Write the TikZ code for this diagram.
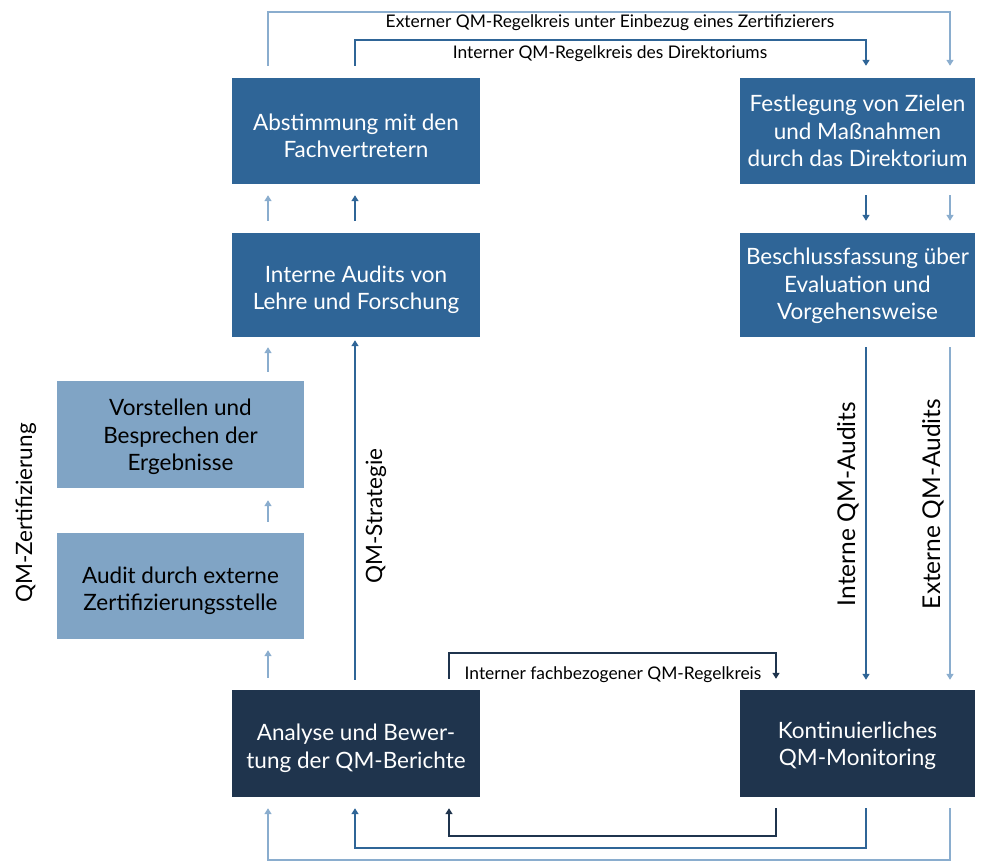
\documentclass[tikz,border=0pt]{standalone}
\usepackage{fontspec}
\setmainfont{Lato}
\usetikzlibrary{arrows.meta}
\definecolor{midblue}{RGB}{47,101,151}
\definecolor{lightbox}{RGB}{128,164,197}
\definecolor{darkbox}{RGB}{31,52,77}
\definecolor{lightline}{RGB}{138,173,206}
% invisible strut that lowers the text block inside a box
\newcommand\lowerby[1]{\rule{0pt}{#1}}
\tikzset{
  box/.style={rectangle, inner sep=0pt, align=center,
    font=\fontsize{22.5}{27.5}\selectfont},
  midbox/.style={box, fill=midblue, text=white},
  litebox/.style={box, fill=lightbox, text=black},
  darkbx/.style={box, fill=darkbox, text=white},
  wide/.style={minimum width=248pt},
  narrow/.style={minimum width=235pt},
  tip/.style={-{Triangle[length=6pt,width=7pt]}},
  midln/.style={draw=midblue, line width=1.8pt},
  liteln/.style={draw=lightline, line width=1.8pt},
  darkln/.style={draw=darkbox, line width=1.5pt},
  lbl/.style={font=\fontsize{17.4}{20}\selectfont, text=black, inner sep=0pt},
  vlbl/.style={font=\fontsize{22.5}{25}\selectfont, text=black, inner sep=0pt, rotate=90},
  vlblbig/.style={vlbl, font=\fontsize{24.5}{27}\selectfont},
}
\begin{document}
\begin{tikzpicture}[x=1pt,y=-1pt]
\useasboundingbox (0,0) rectangle (985,863);

% boxes
\node[midbox, wide, minimum height=106pt] (ab) at (356,131) {\lowerby{26pt}Abstimmung mit den\\Fachvertretern};
\node[midbox, wide, minimum height=104pt] (ia) at (356,285) {\lowerby{26pt}Interne Audits von\\Lehre und Forschung};
\node[litebox, minimum width=247pt, minimum height=107pt] (vb) at (180.5,434.5) {\lowerby{22pt}Vorstellen und\\Besprechen der\\Ergebnisse};
\node[litebox, minimum width=247pt, minimum height=106pt] (ae) at (180.5,586) {\lowerby{26pt}Audit durch externe\\Zertifizierungsstelle};
\node[darkbx, wide, minimum height=107pt] (an) at (356,743.5) {\lowerby{26pt}Analyse und Bewer-\\tung der QM-Berichte};
\node[midbox, narrow, minimum height=106pt] (fz) at (857.5,131) {Festlegung von Zielen\\und Maßnahmen\\durch das Direktorium};
\node[midbox, narrow, minimum height=104pt] (bf) at (857.5,285) {\lowerby{19pt}Beschlussfassung über\\Evaluation und\\Vorgehensweise};
\node[darkbx, narrow, minimum height=107pt] (km) at (857.5,743.5) {\lowerby{21pt}Kontinuierliches\\QM-Monitoring};

% guide columns
\coordinate (xa) at (268,0);
\coordinate (xb) at (355,0);
\coordinate (xc) at (449,0);
\coordinate (xd) at (776,0);
\coordinate (xe) at (866,0);
\coordinate (xf) at (950,0);

% loop levels
\coordinate (topE) at (0,12);
\coordinate (topI) at (0,40);
\coordinate (midF) at (0,653);
\coordinate (botF) at (0,836);
\coordinate (botI) at (0,848);
\coordinate (botE) at (0,860);

% top loops
\draw[liteln, tip] ([yshift=12pt]ab.north -| xa) -- (xa |- topE) -| ([yshift=12pt]fz.north -| xf);
\draw[midln, tip] ([yshift=12pt]ab.north -| xb) -- (xb |- topI) -| ([yshift=12pt]fz.north -| xe);
\node[lbl] (lE) at (610,22.5) {Externer QM-Regelkreis unter Einbezug eines Zertifizierers};
\node[lbl] (lI) at (610,54) {Interner QM-Regelkreis des Direktoriums};

% left column
\draw[liteln, tip, shorten <=12pt, shorten >=11pt] (ia.north -| xa) -- (ab.south -| xa);
\draw[midln, tip, shorten <=12pt, shorten >=11pt] (ia.north -| xb) -- (ab.south -| xb);
\draw[liteln, tip, shorten <=9pt, shorten >=10pt] (vb.north -| xa) -- (ia.south -| xa);
\draw[liteln, tip, shorten <=11pt, shorten >=12pt] (ae.north -| xa) -- (vb.south -| xa);
\draw[liteln, tip, shorten <=12pt, shorten >=11pt] (an.north -| xa) -- (ae.south -| xa);
\draw[midln, tip, shorten <=10pt, shorten >=3pt] (an.north -| xb) -- (ia.south -| xb);
\node[vlbl] (lS) at (376,516) {QM-Strategie};

% right column
\draw[midln, tip, shorten <=11pt, shorten >=12pt] (fz.south -| xe) -- (bf.north -| xe);
\draw[liteln, tip, shorten <=11pt, shorten >=12pt] (fz.south -| xf) -- (bf.north -| xf);
\draw[midln, tip, shorten <=10pt, shorten >=10pt] (bf.south -| xe) -- (km.north -| xe);
\draw[liteln, tip, shorten <=10pt, shorten >=10pt] (bf.south -| xf) -- (km.north -| xf);
\node[vlblbig] (lIA) at (848,504) {Interne QM-Audits};
\node[vlblbig] (lEA) at (933,504) {Externe QM-Audits};

% left side label
\node[vlbl] (lZ) at (26,513) {QM-Zertifizierung};

% subject-specific loop
\draw[darkln, tip] ([yshift=11pt]an.north -| xc) -- (xc |- midF) -| ([yshift=11pt]km.north -| xd);
\node[lbl] (lF) at (613,674.5) {Interner fachbezogener QM-Regelkreis};

% bottom feedback loops
\draw[darkln, tip] ([yshift=-11pt]km.south -| xd) -- (xd |- botF) -| ([yshift=-11pt]an.south -| xc);
\draw[midln, tip] ([yshift=-11pt]km.south -| xe) -- (xe |- botI) -| ([yshift=-11pt]an.south -| xb);
\draw[liteln, tip] ([yshift=-11pt]km.south -| xf) -- (xf |- botE) -| ([yshift=-11pt]an.south -| xa);
\end{tikzpicture}
\end{document}
